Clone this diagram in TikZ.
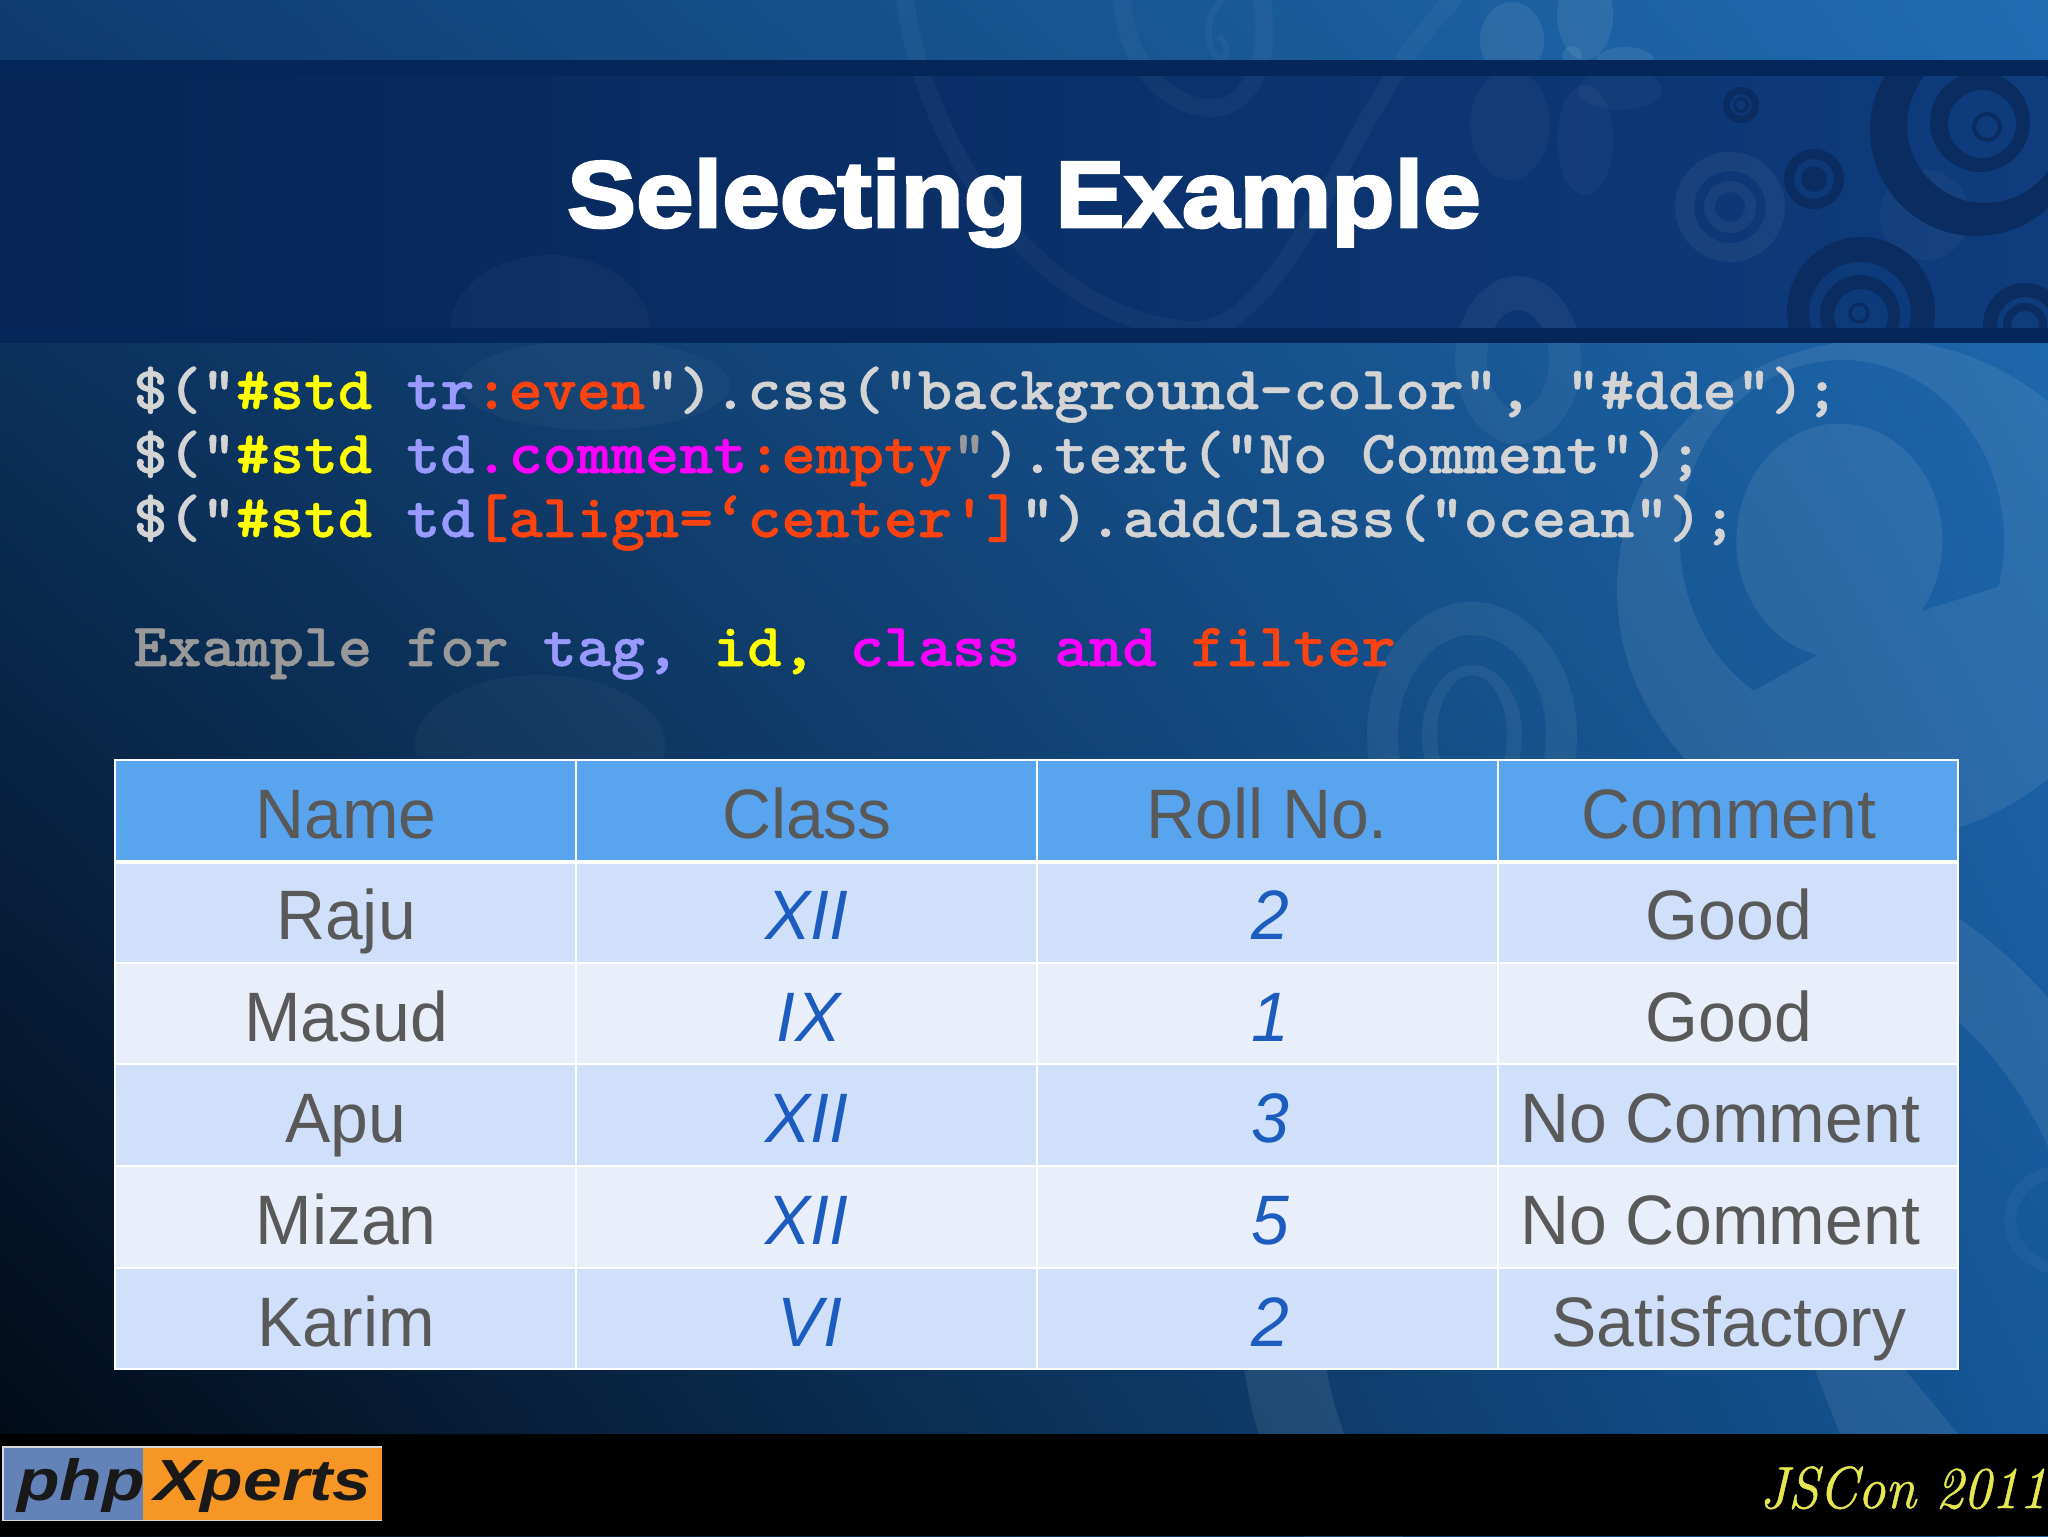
\documentclass[tikz,border=0pt]{standalone}
\usepackage{fontspec}
\usetikzlibrary{shadings}
\newfontfamily\codefont[FakeStretch=1.06,FakeBold=0.8]{Latin Modern Mono Light}
\newfontfamily\tabfont[FakeStretch=0.97]{Liberation Sans}
\newfontfamily\titlefont[FakeStretch=1.10,FakeBold=3]{Liberation Sans}
\newfontfamily\logofont[FakeStretch=1.2]{Liberation Sans}
\newfontfamily\confont[FakeStretch=0.94,FakeBold=0.9]{Latin Modern Roman}
\definecolor{cG}{HTML}{D4D4D4}
\definecolor{cDim}{HTML}{999999}
\definecolor{cY}{HTML}{FFFF00}
\definecolor{cB}{HTML}{9999FF}
\definecolor{cO}{HTML}{FF420E}
\definecolor{cM}{HTML}{FF00FF}
\definecolor{cellText}{HTML}{595959}
\definecolor{cellBlue}{HTML}{1C5CBF}
\definecolor{headFill}{HTML}{58A4EF}
\definecolor{rowA}{HTML}{D0E0FA}
\definecolor{rowB}{HTML}{E9EFFA}
\definecolor{swirlDark}{HTML}{0A2C60}
\definecolor{barDark}{RGB}{5,38,88}
\definecolor{jsc}{HTML}{E4E750}
\definecolor{bgLL}{RGB}{1,8,18}
\definecolor{bgUL}{RGB}{14,60,112}
\definecolor{bgUR}{RGB}{32,108,178}
\definecolor{bgLR}{RGB}{20,85,150}
\definecolor{bandL}{RGB}{6,36,85}
\definecolor{bandR}{RGB}{14,60,125}
\definecolor{logoBlue}{RGB}{98,130,184}
\definecolor{logoOrange}{RGB}{246,150,36}
\newcommand{\cG}{\color{cG}}
\newcommand{\cY}{\color{cY}}
\newcommand{\cB}{\color{cB}}
\newcommand{\cO}{\color{cO}}
\newcommand{\cM}{\color{cM}}
\newcommand{\cD}{\color{cDim}}
\tikzset{
  code/.style={anchor=base west,inner sep=0pt,font=\codefont\bfseries\fontsize{30.65}{32}\selectfont},
  tcell/.style={anchor=base,inner sep=0pt,text=cellText,font=\tabfont\fontsize{35}{38}\selectfont},
  icell/.style={anchor=base,inner sep=0pt,text=cellBlue,font=\tabfont\itshape\fontsize{35}{38}\selectfont},
  dark/.style={fill=swirlDark,even odd rule},
  faint/.style={fill=white,fill opacity=.08,even odd rule},
  subtle/.style={fill=white,fill opacity=.03,even odd rule},
  faintline/.style={draw=white,draw opacity=.035,line cap=round},
  gridline/.style={draw=white,line width=.7pt},
  logotext/.style={anchor=base west,inner sep=0pt,text=black!90,font=\logofont\bfseries\itshape\fontsize{29}{30}\selectfont},
}
\begin{document}
\begin{tikzpicture}[x=.5pt,y=-.5pt]
\useasboundingbox (0,0) rectangle (2048,1536);
\clip (0,0) rectangle (2048,1536);
% background
\shade[lower left=bgLL,upper left=bgUL,upper right=bgUR,lower right=bgLR]
  (0,0) rectangle (2048,1536);
% large crescent with its dark C
\fill[faint] (1877,590) ellipse [x radius=260,y radius=250]
  (1842,540) ++(15:162 and 180) arc [start angle=15,end angle=-237,x radius=162,y radius=180]
  -- (1818,655) arc [start angle=-258,end angle=37,x radius=103,y radius=117] -- cycle;
% lower concentric ring
\fill[faint,fill opacity=.06] (1472,735) ellipse [x radius=105,y radius=133] (1472,735) ellipse [x radius=74,y radius=100]
  (1472,735) ellipse [x radius=50,y radius=70] (1472,735) ellipse [x radius=35,y radius=60];
% lower right arcs
\fill[faint] (1700,1300) circle (461) (1700,1300) circle (380);
\draw[faintline,line width=6pt] (2060,1220) ellipse [x radius=50,y radius=48];
\fill[faint] (1815,1370) -- (1905,1370) -- (1958,1434) -- (1840,1434) -- cycle;
% soft shapes on the left of the page
\fill[subtle] (595,385) ellipse [x radius=135,y radius=45];
\fill[subtle] (540,745) ellipse [x radius=125,y radius=70];
% band
\shade[left color=bandL,right color=bandR] (0,76) rectangle (2048,328);
\begin{scope}
\clip (0,76) rectangle (2048,328);
\fill[subtle] (550,330) ellipse [x radius=100,y radius=75];
\fill[faint,fill opacity=.05] (1730,207) circle (55) (1730,207) circle (36) (1730,207) circle (26) (1730,207) circle (15);
\fill[subtle] (1510,125) ellipse [x radius=40,y radius=55];
\fill[subtle] (1585,140) ellipse [x radius=28,y radius=55];
\fill[subtle] (1620,90) ellipse [x radius=42,y radius=20];
\fill[subtle] (1925,215) circle (45);
\fill[dark] (1976,130) circle (106) (1985,125) circle (78);
\fill[dark] (1980,122) circle (50) (1982,124) circle (34);
\draw[swirlDark,line width=2pt] (1987,127) circle (13);
\fill[dark] (1741,105) circle (18) (1741,105) circle (11);
\fill[dark] (1741,105) circle (8) (1741,105) circle (5);
\fill[dark] (1814,179) circle (30) (1814,179) circle (20);
\fill[swirlDark] (1814,179) circle (13);
\fill[dark] (1861,311) circle (74) (1860,313) circle (51);
\fill[dark] (1860,315) circle (40) (1861,316) circle (27);
\draw[swirlDark,line width=1.6pt] (1859,313) circle (9);
\fill[dark] (2025,325) circle (42) (2025,325) circle (28);
\fill[dark] (2025,325) circle (22) (2025,325) circle (14);
\end{scope}
% faint swirl that crosses the band
\draw[faintline,line width=9pt] (905,0) .. controls (925,150) and (1040,320) .. (1190,330)
  .. controls (1290,335) and (1350,100) .. (1453,0);
\draw[faintline,line width=9pt] (1122,0) .. controls (1130,90) and (1190,110) .. (1215,108)
  .. controls (1250,105) and (1272,60) .. (1262,0);
\draw[faintline,line width=3pt] (1222,0) .. controls (1200,20) and (1210,55) .. (1220,60) .. controls (1232,55) and (1225,40) .. (1220,38);
\fill[faint,fill opacity=.05] (1518,360) ellipse [x radius=63,y radius=84] (1518,360) ellipse [x radius=31,y radius=50];
% flower above the band
\begin{scope}
\clip (0,0) rectangle (2048,60);
\fill[faint] (1512,40) ellipse [x radius=32,y radius=38];
\fill[faint] (1585,15) ellipse [x radius=28,y radius=45];
\fill[faint] (1625,62) ellipse [x radius=30,y radius=15];
\fill[faint] (1572,56) circle (10);
\end{scope}
% bars
\fill[barDark] (0,60) rectangle (2048,76);
\fill[barDark] (0,328) rectangle (2048,343);
% title
\node[anchor=base,inner sep=0pt,text=white,font=\titlefont\bfseries\fontsize{47}{50}\selectfont] (title) at (1024,227) {Selecting Example};
% code
\node[code] (l1) at (133,409) {\cG\$(“\cY\#std \cB tr\cO:even\cG”).css(“background-color”, “\#dde”);};
\node[code] (l2) at (133,473) {\cG\$(“\cY\#std \cB td\cM.comment\cO:empty\cD”\cG).text(“No Comment”);};
\node[code] (l3) at (133,537) {\cG\$(“\cY\#std \cB td\cO[align=‘center']\cG").addClass(“ocean”);};
\node[code] (l4) at (133,666) {\cD Example for \cB tag, \cY id, \cM class and \cO filter};
% table
\fill[headFill] (115,760) rectangle (1958,861);
\fill[rowA] (115,861) rectangle (1958,963);
\fill[rowB] (115,963) rectangle (1958,1064);
\fill[rowA] (115,1064) rectangle (1958,1166);
\fill[rowB] (115,1166) rectangle (1958,1268);
\fill[rowA] (115,1268) rectangle (1958,1369);
\draw[gridline] (115,760) rectangle (1958,1369);
\foreach \x in {576,1037,1498} \draw[gridline] (\x,760) -- (\x,1369);
\foreach \y in {963,1064,1166,1268} \draw[gridline] (115,\y) -- (1958,\y);
\draw[white,line width=2pt] (115,862) -- (1958,862);
% header row
\node[tcell] (h1) at (346,838) {Name};
\node[tcell] (h2) at (807,838) {Class};
\node[tcell] (h3) at (1267,838) {Roll No.};
\node[tcell] (h4) at (1729,838) {Comment};
% rows
\node[tcell] (a1) at (346,939) {Raju};
\node[icell] (a2) at (807,939) {XII};
\node[icell] (a3) at (1270,939) {2};
\node[tcell] (a4) at (1729,939) {Good};
\node[tcell] (b1) at (346,1041) {Masud};
\node[icell] (b2) at (809,1041) {IX};
\node[icell] (b3) at (1270,1041) {1};
\node[tcell] (b4) at (1729,1041) {Good};
\node[tcell] (c1) at (346,1142) {Apu};
\node[icell] (c2) at (807,1142) {XII};
\node[icell] (c3) at (1270,1142) {3};
\node[tcell] (c4) at (1720,1142) {No Comment};
\node[tcell] (d1) at (346,1244) {Mizan};
\node[icell] (d2) at (807,1244) {XII};
\node[icell] (d3) at (1270,1244) {5};
\node[tcell] (d4) at (1720,1244) {No Comment};
\node[tcell] (e1) at (346,1346) {Karim};
\node[icell] (e2) at (810,1346) {VI};
\node[icell] (e3) at (1270,1346) {2};
\node[tcell] (e4) at (1729,1346) {Satisfactory};
% footer
\fill[black] (0,1434) rectangle (2048,1536);
\fill[white!85!black] (2,1446) rectangle (382,1521);
\fill[logoBlue] (4,1448) rectangle (143,1520);
\fill[logoOrange] (143,1448) rectangle (382,1520);
\node[logotext] (lp) at (17,1500) {php};
\node[logotext] (lx) at (154,1500) {Xperts};
\node[anchor=base west,inner sep=0pt,text=jsc,font=\confont\itshape\fontsize{29.6}{31}\selectfont] (conf) at (1759,1508) {JSCon 2011};
\end{tikzpicture}
\end{document}
